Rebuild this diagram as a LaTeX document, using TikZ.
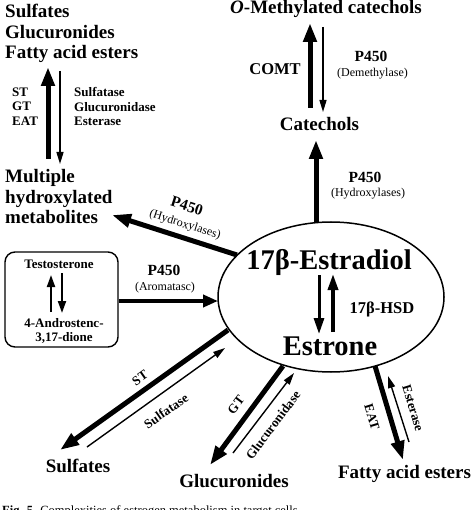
\documentclass[tikz,border=0pt]{standalone}
\usepackage{fontspec}
\setmainfont{Liberation Serif}
\usetikzlibrary{arrows.meta,shapes.geometric}
\begin{document}
\begin{tikzpicture}[x=1pt,y=-1pt,
  big/.style={font=\bfseries\fontsize{19}{20.5}\selectfont,inner sep=0pt},
  huge/.style={font=\bfseries\fontsize{28.5}{30}\selectfont,inner sep=0pt},
  lab/.style={font=\bfseries\fontsize{13}{14.5}\selectfont,inner sep=0pt},
  mid/.style={font=\bfseries\fontsize{15.5}{17}\selectfont,inner sep=0pt},
  sub/.style={font=\fontsize{12}{13}\selectfont,inner sep=0pt},
  bigarrow/.style={line width=5pt,-{Triangle[length=19pt,width=13pt]}},
  smallarrow/.style={line width=2pt,-{Triangle[length=12pt,width=8pt]}},
  thinarrow/.style={line width=1.4pt,-{Triangle[length=12pt,width=7pt]}},
]
\useasboundingbox (0,0) rectangle (474,510);
\fill[white] (0,0) rectangle (474,510);

% top-left conjugates and hydroxylated metabolites
\node[big,anchor=north west,align=left] (conj) at (5,4) {Sulfates\\Glucuronides\\Fatty acid esters};
\node[big,anchor=north west,align=left] (multi) at (5,169.5) {Multiple\\hydroxylated\\metabolites};
\node[lab,anchor=north west,align=left] (enzA) at (12,87.5) {ST\\GT\\EAT};
\node[lab,anchor=north west,align=left] (enzB) at (74,87.5) {Sulfatase\\Glucuronidase\\Esterase};
\coordinate (lA1) at (48,159);
\coordinate (lA2) at (48,67);
\coordinate (lB1) at (60,71);
\coordinate (lB2) at (60,164);
\draw[bigarrow] (lA1) -- (lA2);
\draw[thinarrow] (lB1) -- (lB2);

% catechols
\node[big,anchor=base] (omc) at (326,14) {\textit{O}-Methylated catechols};
\node[big,anchor=base] (cat) at (319.5,131) {Catechols};
\node[font=\bfseries\fontsize{16.5}{18}\selectfont,inner sep=0pt,anchor=base] (comt) at (275,75) {COMT};
\node[mid,anchor=base] (pA) at (371,62) {P450};
\node[sub,anchor=base] (dem) at (372.5,77) {(Demethylase)};
\coordinate (cA1) at (310,108);
\coordinate (cA2) at (310,23);
\coordinate (cB1) at (323,27);
\coordinate (cB2) at (323,112);
\draw[bigarrow] (cA1) -- (cA2);
\draw[thinarrow] (cB1) -- (cB2);

\node[mid,anchor=base] (pB) at (365,183) {P450};
\node[sub,anchor=base] (hydA) at (368,197) {(Hydroxylases)};

% central ellipse
\node[draw,ellipse,line width=1.5pt,minimum width=226pt,minimum height=150pt,inner sep=0pt] (E) at (331,297) {};
\node[huge,anchor=base] (estradiol) at (329,269) {17β-Estradiol};
\node[huge,anchor=base] (estrone) at (330,355) {Estrone};
\node[font=\bfseries\fontsize{16.5}{18}\selectfont,inner sep=0pt,anchor=base] (hsd) at (382,313) {17β-HSD};
\coordinate (hA1) at (319,275);
\coordinate (hA2) at (319,334);
\coordinate (hB1) at (333,332);
\coordinate (hB2) at (333,274);
\draw[line width=3pt,-{Triangle[length=16pt,width=10pt]}] (hA1) -- (hA2);
\draw[line width=3.5pt,-{Triangle[length=16pt,width=10pt]}] (hB1) -- (hB2);

\coordinate (eTop) at (316,222);
\coordinate (catIn) at (316,140);
\draw[bigarrow] (eTop) -- (catIn);

% hydroxylases to multiple metabolites
\coordinate (eHyd) at (237,255);
\coordinate (mIn) at (112,215);
\draw[bigarrow] (eHyd) -- (mIn);
\node[mid,rotate=-17.7] (pC) at (187,206) {P450};
\node[sub,rotate=-17.7] (hydB) at (185,225) {(Hydroxylases)};

% androgen box
\node[draw,rounded corners=10pt,line width=1.4pt,minimum width=113pt,minimum height=95pt,inner sep=0pt] (box) at (61.5,299.5) {};
\node[lab,anchor=base] (testo) at (59,268) {Testosterone};
\node[lab,anchor=base] (andro) at (64,327) {4-Androstenc-};
\node[lab,anchor=base] (dione) at (64,341) {3,17-dione};
\coordinate (bA1) at (51,312);
\coordinate (bA2) at (51,275);
\coordinate (bB1) at (62,273);
\coordinate (bB2) at (62,313);
\draw[smallarrow] (bA1) -- (bA2);
\draw[smallarrow] (bB1) -- (bB2);
\coordinate (eLeft) at (218,301);
\draw[line width=4pt,-{Triangle[length=15pt,width=12pt]}] (box.east |- eLeft) -- (eLeft);
\node[mid,anchor=base] (pD) at (164,275) {P450};
\node[sub,anchor=base] (aro) at (165,290) {(Aromatasc)};

% sulfates
\coordinate (sA1) at (228,330);
\coordinate (sA2) at (60,450);
\coordinate (sB1) at (87,447);
\coordinate (sB2) at (225,348);
\draw[bigarrow] (sA1) -- (sA2);
\draw[thinarrow] (sB1) -- (sB2);
\node[lab,rotate=35] (st) at (140,378) {ST};
\node[lab,rotate=35] (sulfatase) at (166,411) {Sulfatase};
\node[big,anchor=base] (sulfates) at (78,472) {Sulfates};

% glucuronides
\coordinate (gA1) at (283,366);
\coordinate (gA2) at (210,465);
\coordinate (gB1) at (233,453);
\coordinate (gB2) at (294,373);
\draw[bigarrow] (gA1) -- (gA2);
\draw[thinarrow] (gB1) -- (gB2);
\node[lab,rotate=53] (gt) at (236,405) {GT};
\node[lab,rotate=53] (glucase) at (273,425) {Glucuronidase};
\node[big,anchor=base] (glucs) at (234,487) {Glucuronides};

% fatty acid esters
\coordinate (fA1) at (375,366);
\coordinate (fA2) at (403,460);
\coordinate (fB1) at (409,442);
\coordinate (fB2) at (388,376);
\draw[bigarrow] (fA1) -- (fA2);
\draw[thinarrow] (fB1) -- (fB2);
\node[lab,rotate=-73] (eat) at (372,417) {EAT};
\node[lab,rotate=-73] (esterase) at (413,408) {Esterase};
\node[big,anchor=base] (fae) at (404.5,478) {Fatty acid esters};

% caption (cut off by the page edge)
\node[font=\fontsize{12.5}{13}\selectfont,anchor=base west,inner sep=0pt] (caption) at (2,514) {\textbf{Fig. 5.} Complexities of estrogen metabolism in target cells.};
\end{tikzpicture}
\end{document}
